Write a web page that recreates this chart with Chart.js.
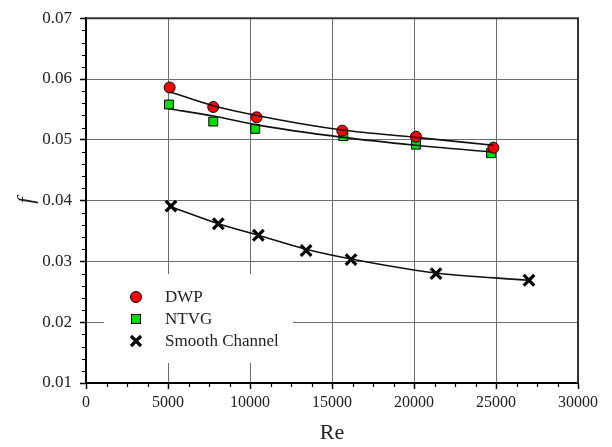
<!DOCTYPE html>
<html>
<head>
<meta charset="utf-8">
<script src="https://cdn.jsdelivr.net/npm/chart.js@4/dist/chart.umd.min.js"></script>
<style>
  body { margin: 0; background: #fff; }
  #wrap { width: 612px; height: 447px; }
</style>
</head>
<body>
<div id="wrap"><canvas id="chart" width="612" height="447"></canvas></div>
<script>
// Measured points (Re, f)
const dwpRe = [5100, 7760, 10400, 15630, 20120, 24840];
const dwpF = [0.0586, 0.0554, 0.0537, 0.0515, 0.0505, 0.0487];
const ntvgRe = [5060, 7760, 10320, 15690, 20120, 24700];
const ntvgF = [0.0558, 0.0530, 0.0518, 0.0506, 0.0492, 0.0478];
const smoothRe = [5180, 8070, 10510, 13420, 16160, 21340, 27010];
const smoothF = [0.0391, 0.0362, 0.0343, 0.0318, 0.0303, 0.0280, 0.0269];

// Fitted curves at the same Re values
const dwpFit = [0.0579, 0.0556, 0.0540, 0.0516, 0.0504, 0.0491];
const ntvgFit = [0.0551, 0.0539, 0.0525, 0.0504, 0.0491, 0.0480];
const smoothFit = [0.0390, 0.0362, 0.0343, 0.0320, 0.0304, 0.0281, 0.0269];

// Axis ticks
const xTicks = [0, 5000, 10000, 15000, 20000, 25000, 30000];
const yTicks = [0.01, 0.02, 0.03, 0.04, 0.05, 0.06, 0.07];
const xMinorStep = 1250;
const yMinorStep = 0.002;

const legendLabels = ["DWP", "NTVG", "Smooth Channel"];

const FONT = "'Liberation Serif', 'Times New Roman', serif";
const TXT = "#222";

function pts(xs, ys) {
  return xs.map((x, i) => ({ x: x, y: ys[i] }));
}

function fitSet(xs, ys) {
  return {
    data: pts(xs, ys),
    showLine: true,
    borderColor: "#111",
    borderWidth: 1.6,
    pointRadius: 0,
    cubicInterpolationMode: "monotone",
    fill: false
  };
}

const markerSets = [
  { label: legendLabels[0], data: pts(dwpRe, dwpF), pointStyle: "circle", pointRadius: 5.5,
    backgroundColor: "#ff0000", borderColor: "#000", pointBorderWidth: 1, showLine: false },
  { label: legendLabels[1], data: pts(ntvgRe, ntvgF), pointStyle: "rect", pointRadius: 6.3,
    backgroundColor: "#00dd00", borderColor: "#000", pointBorderWidth: 1, showLine: false },
  { label: legendLabels[2], data: pts(smoothRe, smoothF), pointStyle: "crossRot", pointRadius: 7.5,
    backgroundColor: "#000", borderColor: "#000", pointBorderWidth: 3.2, showLine: false }
];

// minor ticks, frame and in-plot legend
const decorations = {
  id: "decorations",
  afterDatasetsDraw(chart) {
    const ctx = chart.ctx;
    const area = chart.chartArea;
    const xs = chart.scales.x;
    const ys = chart.scales.y;
    ctx.save();
    ctx.strokeStyle = "#000";
    ctx.lineWidth = 1.2;
    ctx.beginPath();
    for (let v = xs.min; v <= xs.max; v += xMinorStep) {
      if (v % 5000 === 0) continue;
      const px = Math.round(xs.getPixelForValue(v)) + 0.5;
      ctx.moveTo(px, area.bottom);
      ctx.lineTo(px, area.bottom + 4);
    }
    for (let i = 0; i * yMinorStep <= 0.06 + 1e-9; i++) {
      if (i % 5 === 0) continue;
      const py = Math.round(ys.getPixelForValue(0.01 + i * yMinorStep)) + 0.5;
      ctx.moveTo(area.left - 4, py);
      ctx.lineTo(area.left, py);
    }
    ctx.stroke();

    // top and right frame
    ctx.strokeStyle = "#333";
    ctx.lineWidth = 2;
    ctx.beginPath();
    ctx.moveTo(area.left, area.top);
    ctx.lineTo(area.right, area.top);
    ctx.lineTo(area.right, area.bottom);
    ctx.stroke();

    // legend box
    ctx.fillStyle = "#fff";
    ctx.fillRect(104, 274, 189, 89);
    const rows = [297, 319, 341];
    const mx = 136;
    ctx.font = "17px " + FONT;
    ctx.textBaseline = "middle";
    ctx.textAlign = "left";
    markerSets.forEach((ds, i) => {
      const y = rows[i];
      ctx.lineWidth = 1;
      ctx.strokeStyle = "#000";
      if (ds.pointStyle === "circle") {
        ctx.fillStyle = ds.backgroundColor;
        ctx.beginPath();
        ctx.arc(mx, y, 5.5, 0, Math.PI * 2);
        ctx.fill();
        ctx.stroke();
      } else if (ds.pointStyle === "rect") {
        ctx.fillStyle = ds.backgroundColor;
        ctx.fillRect(mx - 4.5, y - 4.5, 9, 9);
        ctx.strokeRect(mx - 4.5, y - 4.5, 9, 9);
      } else {
        ctx.lineWidth = 3.2;
        ctx.beginPath();
        ctx.moveTo(mx - 5, y - 5); ctx.lineTo(mx + 5, y + 5);
        ctx.moveTo(mx + 5, y - 5); ctx.lineTo(mx - 5, y + 5);
        ctx.stroke();
      }
      ctx.fillStyle = TXT;
      ctx.fillText(ds.label, 165, y + 1);
    });
    ctx.restore();
  }
};

new Chart(document.getElementById("chart"), {
  type: "scatter",
  data: {
    datasets: [
      fitSet(dwpRe, dwpFit),
      fitSet(ntvgRe, ntvgFit),
      fitSet(smoothRe, smoothFit),
      ...markerSets
    ]
  },
  options: {
    responsive: false,
    animation: false,
    layout: { padding: { left: 0, top: 14, right: 34, bottom: 0 } },
    plugins: {
      legend: { display: false },
      tooltip: { enabled: false }
    },
    scales: {
      x: {
        type: "linear",
        min: 0,
        max: 30000,
        afterBuildTicks: (s) => { s.ticks = xTicks.map(v => ({ value: v })); },
        afterFit: (s) => { s.height = 64; },
        ticks: {
          callback: (v) => String(v),
          font: { family: FONT, size: 16 },
          color: TXT,
          padding: 4,
          maxRotation: 0
        },
        grid: { color: "#6e6e6e", lineWidth: 1, tickColor: "#000", tickLength: 6, tickWidth: 1.5 },
        border: { color: "#000", width: 2 },
        title: { display: true, text: "Re", font: { family: FONT, size: 22 }, color: TXT, padding: { top: 0, bottom: 1 } }
      },
      y: {
        type: "linear",
        min: 0.01,
        max: 0.07,
        afterBuildTicks: (s) => { s.ticks = yTicks.map(v => ({ value: v })); },
        afterFit: (s) => { s.width = 86; },
        ticks: {
          callback: (v) => v.toFixed(2),
          font: { family: FONT, size: 17 },
          color: TXT,
          padding: 8
        },
        grid: { color: "#6e6e6e", lineWidth: 1, tickColor: "#000", tickLength: 6, tickWidth: 1.5 },
        border: { color: "#000", width: 2 },
        title: { display: true, text: "f", font: { family: FONT, size: 23, style: "italic" }, color: TXT, padding: { top: 13, bottom: 0 } }
      }
    }
  },
  plugins: [decorations]
});
</script>
</body>
</html>
